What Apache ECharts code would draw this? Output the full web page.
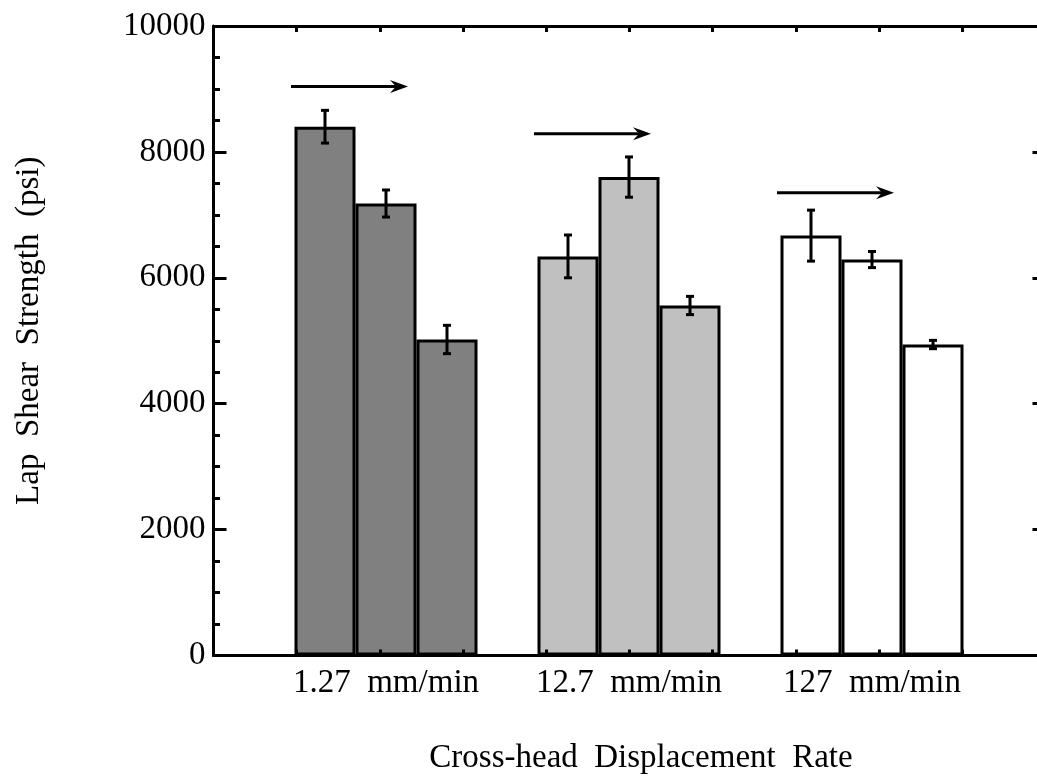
<!DOCTYPE html>
<html>
<head>
<meta charset="utf-8">
<script src="https://cdn.jsdelivr.net/npm/echarts@6/dist/echarts.min.js"></script>
<style>
  html, body { margin: 0; padding: 0; background: #fff; overflow: hidden; }
  #chart { width: 1037px; height: 778px; }
</style>
</head>
<body>
<div id="chart"></div>
<script>
// rate groups and the three bars drawn in each group (psi)
const categories = ['1.27  mm/min', '12.7  mm/min', '127  mm/min'];
const firstBar = [8400, 6340, 6670];
const secondBar = [7180, 7600, 6290];
const thirdBar = [5020, 5560, 4940];
// error bar half-ranges (psi)
const firstErr = [260, 340, 405];
const secondErr = [215, 320, 128];
const thirdErr = [225, 145, 66];
// level of the arrow drawn above each group (psi)
const arrowLevel = [9040, 8290, 7350];
const yTicks = [0, 2000, 4000, 6000, 8000, 10000];

const groupColors = ['#808080', '#c0c0c0', '#ffffff'];
const FONT = '"Liberation Serif", "DejaVu Serif", serif';
const FS = 33;
const BAR_W = 61;

const chart = echarts.init(document.getElementById('chart'));

const black = { color: '#000', width: 3 };

const barSeries = (vals, name) => ({
  type: 'bar',
  name,
  xAxisIndex: 2,
  yAxisIndex: 2,
  barWidth: BAR_W,
  barGap: '0%',
  z: 2,
  data: vals.map((v, i) => ({
    value: v,
    itemStyle: { color: groupColors[i], borderColor: '#000', borderWidth: 3 },
  })),
});

const errSeries = (vals, errs, offset) => ({
  type: 'custom',
  xAxisIndex: 2,
  yAxisIndex: 2,
  z: 4,
  encode: { x: 0, y: [1, 2] },
  data: vals.map((v, i) => [i, v - errs[i], v + errs[i]]),
  renderItem(params, api) {
    const lo = api.coord([api.value(0), api.value(1)]);
    const hi = api.coord([api.value(0), api.value(2)]);
    const x = lo[0] + offset * BAR_W;
    const st = { stroke: '#000', lineWidth: 3 };
    return {
      type: 'group',
      children: [
        { type: 'line', shape: { x1: x, y1: lo[1], x2: x, y2: hi[1] }, style: st },
        { type: 'line', shape: { x1: x - 4, y1: lo[1], x2: x + 4, y2: lo[1] }, style: st },
        { type: 'line', shape: { x1: x - 4, y1: hi[1], x2: x + 4, y2: hi[1] }, style: st },
      ],
    };
  },
});

const option = {
  animation: false,
  backgroundColor: '#fff',
  grid: [
    { left: 213.5, top: 26, width: 832, height: 629.5, outerBoundsMode: 'none' },
    { left: 264.5, top: 26, width: 729, height: 629.5, outerBoundsMode: 'none' },
  ],
  xAxis: [
    {
      type: 'value', gridIndex: 0, position: 'bottom', min: 0, max: 10, interval: 1, z: 10,
      axisLine: { show: true, onZero: false, lineStyle: black },
      axisTick: { show: true, inside: true, length: 6, lineStyle: black },
      axisLabel: { show: false }, splitLine: { show: false },
    },
    {
      type: 'value', gridIndex: 0, position: 'top', min: 0, max: 10, interval: 1, z: 10,
      axisLine: { show: true, onZero: false, lineStyle: black },
      axisTick: { show: true, inside: true, length: 6, lineStyle: black },
      axisLabel: { show: false }, splitLine: { show: false },
    },
    {
      type: 'category', gridIndex: 1, data: categories,
      axisLine: { show: false }, axisTick: { show: false }, splitLine: { show: false },
      axisLabel: { color: '#000', fontFamily: FONT, fontSize: FS, margin: 11 },
      name: 'Cross-head  Displacement  Rate',
      nameLocation: 'middle',
      nameGap: 86,
      nameTextStyle: { color: '#000', fontFamily: FONT, fontSize: FS, padding: [0, 0, 0, 24] },
    },
  ],
  yAxis: [
    {
      type: 'value', gridIndex: 0, position: 'left', min: yTicks[0], max: yTicks[yTicks.length - 1],
      interval: 2000, z: 10,
      axisLine: { show: true, onZero: false, lineStyle: black },
      axisTick: { show: true, inside: true, length: 13, lineStyle: black },
      minorTick: { show: true, splitNumber: 4, length: 6.5, lineStyle: black },
      axisLabel: { color: '#000', fontFamily: FONT, fontSize: FS, margin: 8, formatter: (v) => String(v) },
      splitLine: { show: false },
      name: 'Lap  Shear  Strength  (psi)',
      nameLocation: 'middle',
      nameGap: 168,
      nameTextStyle: { color: '#000', fontFamily: FONT, fontSize: FS, padding: [0, 0, 0, 20] },
    },
    {
      type: 'value', gridIndex: 0, position: 'right', min: 0, max: 10000, interval: 2000, z: 10,
      axisLine: { show: true, onZero: false, lineStyle: black },
      axisTick: { show: true, inside: true, length: 13, lineStyle: black },
      minorTick: { show: true, splitNumber: 4, length: 6.5, lineStyle: black },
      axisLabel: { show: false }, splitLine: { show: false },
    },
    {
      type: 'value', gridIndex: 1, min: 0, max: 10000, show: false,
    },
  ],
  series: [
    barSeries(firstBar, 'Bar 1'),
    barSeries(secondBar, 'Bar 2'),
    barSeries(thirdBar, 'Bar 3'),
    errSeries(firstBar, firstErr, -1),
    errSeries(secondBar, secondErr, 0),
    errSeries(thirdBar, thirdErr, 1),
    {
      type: 'custom',
      xAxisIndex: 2,
      yAxisIndex: 2,
      z: 4,
      data: arrowLevel.map((v, i) => [i, v]),
      renderItem(params, api) {
        const p = api.coord([api.value(0), api.value(1)]);
        const x0 = p[0] - 95;
        const x1 = p[0] + 22;
        const y = p[1];
        return {
          type: 'group',
          children: [
            { type: 'line', shape: { x1: x0, y1: y, x2: x1 - 10, y2: y }, style: { stroke: '#000', lineWidth: 3 } },
            {
              type: 'polygon',
              shape: { points: [[x1, y], [x1 - 18, y - 6.5], [x1 - 12, y], [x1 - 18, y + 6.5]] },
              style: { fill: '#000' },
            },
          ],
        };
      },
    },
  ],
};

chart.setOption(option);
</script>
</body>
</html>
